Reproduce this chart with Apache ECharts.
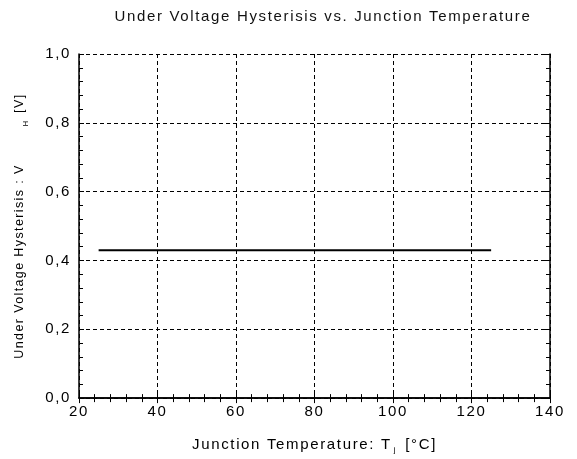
<!DOCTYPE html>
<html><head><meta charset="utf-8">
<script src="https://cdn.jsdelivr.net/npm/echarts@6/dist/echarts.min.js"></script>
<style>html,body{margin:0;padding:0;background:#fff}#c{width:577px;height:459px}</style>
</head><body><div id="c"></div>
<script>
const temperature = [25, 125];
const hysteresis = [0.43, 0.43];
const xTicks = [20, 40, 60, 80, 100, 120, 140];
const yTicks = [0, 0.2, 0.4, 0.6, 0.8, 1.0];

// widen text tracking a little, like the reference typography
(function () {
  const proto = CanvasRenderingContext2D.prototype;
  if (!('letterSpacing' in proto)) return;
  const d = Object.getOwnPropertyDescriptor(proto, 'font');
  Object.defineProperty(proto, 'font', {
    configurable: true,
    get() { return d.get.call(this); },
    set(v) {
      d.set.call(this, v);
      const m = /(\d+(?:\.\d+)?)px/.exec(v);
      this.letterSpacing = m ? (parseFloat(m[1]) * 0.11).toFixed(2) + 'px' : '0px';
    }
  });
})();

const FONT = 'Liberation Sans, Arial, sans-serif';
const chart = echarts.init(document.getElementById('c'));
const fmtY = v => v.toFixed(1).replace('.', ',');
const axisLine = {show: true, lineStyle: {color: '#000', width: 1.5}};
const tick = {show: true, inside: true, length: 5, lineStyle: {color: '#000', width: 1}};
const minor = {show: true, splitNumber: 5, length: 4, lineStyle: {color: '#000', width: 1}};
const split = {show: true, lineStyle: {color: '#000', type: [4, 3], width: 1}};

chart.setOption({
  animation: false,
  backgroundColor: '#fff',
  title: {
    text: 'Under Voltage Hysterisis vs. Junction Temperature',
    left: 318, top: 4, textAlign: 'center',
    textStyle: {fontFamily: FONT, fontSize: 15, fontWeight: 'normal', color: '#111'}
  },
  grid: {left: 79, right: 27, top: 54, bottom: 54},
  xAxis: [{
    type: 'value', min: xTicks[0], max: xTicks[xTicks.length - 1], interval: 20,
    axisLine, axisTick: tick, minorTick: minor, splitLine: split,
    axisLabel: {fontFamily: FONT, fontSize: 15, color: '#000', margin: 5},
    name: '{a|Junction Temperature: T}{s|j}{a| [°C]}',
    nameLocation: 'middle', nameGap: 37,
    nameTextStyle: {
      rich: {
        a: {fontFamily: FONT, fontSize: 15, color: '#000'},
        s: {fontFamily: FONT, fontSize: 8, color: '#000', padding: [10, 3, 0, 2]}
      }
    }
  }, {
    type: 'value', position: 'top', min: xTicks[0], max: xTicks[xTicks.length - 1], interval: 20,
    axisLine, axisTick: tick, minorTick: minor, splitLine: {show: false},
    axisLabel: {show: false}
  }],
  yAxis: [{
    type: 'value', min: yTicks[0], max: yTicks[yTicks.length - 1], interval: 0.2,
    axisLine, axisTick: tick, minorTick: minor, splitLine: split,
    axisLabel: {fontFamily: FONT, fontSize: 15, color: '#000', margin: 8, formatter: fmtY},
    name: '{a|Under Voltage Hysterisis : V}{g|}{s|H}{a| [V]}',
    nameLocation: 'middle', nameGap: 49, nameRotate: 90,
    nameTextStyle: {
      rich: {
        a: {fontFamily: FONT, fontSize: 12.5, color: '#000'},
        g: {width: 38},
        s: {fontFamily: FONT, fontSize: 8, color: '#000', padding: [12, 2, 0, 0]}
      }
    }
  }, {
    type: 'value', position: 'right', min: yTicks[0], max: yTicks[yTicks.length - 1], interval: 0.2,
    axisLine, axisTick: tick, minorTick: minor, splitLine: {show: false},
    axisLabel: {show: false}
  }],
  series: [{
    type: 'line',
    data: temperature.map((t, i) => [t, hysteresis[i]]),
    symbol: 'none',
    lineStyle: {color: '#000', width: 2}
  }]
});
</script></body></html>
